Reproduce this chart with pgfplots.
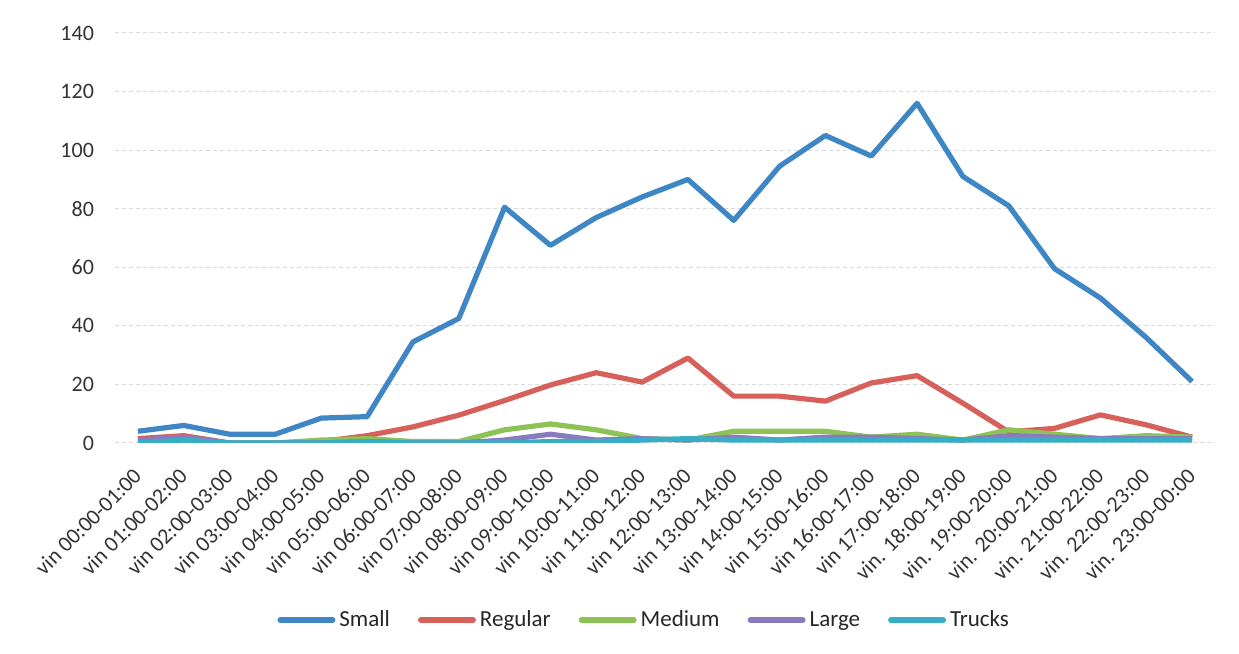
\documentclass[border=0pt]{standalone}
\usepackage{pgfplots}
\pgfplotsset{compat=1.18}
\usepackage{pgfplotstable}
\usepackage{fontspec}
\setmainfont{Carlito}
\definecolor{cS}{HTML}{3F86C4}
\definecolor{cR}{HTML}{D8605A}
\definecolor{cM}{HTML}{8DC255}
\definecolor{cL}{HTML}{8A7BBE}
\definecolor{cT}{HTML}{38AEC6}
\pgfplotstableread{
x S R M L T
0 4 1.5 0.5 1 0
1 6 2.5 1 2 1
2 3 0 0 0 0
3 3 0 0 0 0
4 8.5 0.5 1 0 0
5 9 2.5 1.5 0.5 0.5
6 34.5 5.5 0.5 0 0
7 42.5 9.5 0.5 0 0
8 80.5 14.5 4.5 1 0
9 67.5 19.8 6.5 3 0.5
10 77 24 4.5 1 0.5
11 84 20.8 1.5 1.5 1
12 90 29 1 1 1.5
13 76 16 4 2 1
14 94.5 16 4 1 1
15 105 14.3 4 2 1
16 98 20.5 2 2 1
17 116 23 3 1.5 1
18 91 13.6 1 1 1
19 81 3.8 4.5 2.5 1
20 59.5 5 3 2 1
21 49.5 9.6 1.5 1.5 1
22 36 6.2 2.5 1.5 1
23 21 2 2 1.5 1
}\data
\begin{document}
\begin{tikzpicture}
\path[use as bounding box] (0,0) rectangle (619.5pt,327pt);
\begin{axis}[
  at={(57.5pt,105.5pt)}, anchor=south west,
  scale only axis, width=550pt, height=205pt,
  xmin=-0.5, xmax=23.5, ymin=0, ymax=140,
  ytick={0,20,...,140},
  xtick={0,...,23},
  xticklabels={vin 00:00-01:00,vin 01:00-02:00,vin 02:00-03:00,vin 03:00-04:00,vin 04:00-05:00,vin 05:00-06:00,vin 06:00-07:00,vin 07:00-08:00,vin 08:00-09:00,vin 09:00-10:00,vin 10:00-11:00,vin 11:00-12:00,vin 12:00-13:00,vin 13:00-14:00,vin 14:00-15:00,vin 15:00-16:00,vin 16:00-17:00,vin 17:00-18:00,vin. 18:00-19:00,vin. 19:00-20:00,vin. 20:00-21:00,vin. 21:00-22:00,vin. 22:00-23:00,vin. 23:00-00:00},
  axis x line*=bottom, axis y line*=left,
  axis line style={draw=none}, tick style={draw=none},
  ymajorgrids, grid style={black!15, dash pattern=on 2pt off 1.5pt, line width=0.5pt},
  /pgf/number format/assume math mode=true,
  ticklabel style={text=black!80},
  yticklabel style={font=\fontsize{11}{13}\selectfont, xshift=-7pt},
  xticklabel style={font=\fontsize{11}{13}\selectfont, xshift=-3pt, yshift=-11pt, rotate=45, anchor=north east, inner sep=0.5pt},
  legend style={at={(0.482,-0.432)}, anchor=center, draw=none, fill=none,
    legend columns=5, font=\fontsize{11.5}{13}\selectfont, text=black!85,
    /tikz/every even column/.append style={column sep=12pt}},
  legend image code/.code={\draw[#1, line width=3pt, line cap=round] (0pt,0pt) -- (26pt,0pt);},
  every axis plot/.append style={line width=2.6pt, line join=round, no marks},
]
\addplot[cS] table[x=x,y=S]{\data};
\addplot[cR] table[x=x,y=R]{\data};
\addplot[cM] table[x=x,y=M]{\data};
\addplot[cL] table[x=x,y=L]{\data};
\addplot[cT] table[x=x,y=T]{\data};
\legend{Small,Regular,Medium,Large,Trucks}
\end{axis}
\end{tikzpicture}
\end{document}
